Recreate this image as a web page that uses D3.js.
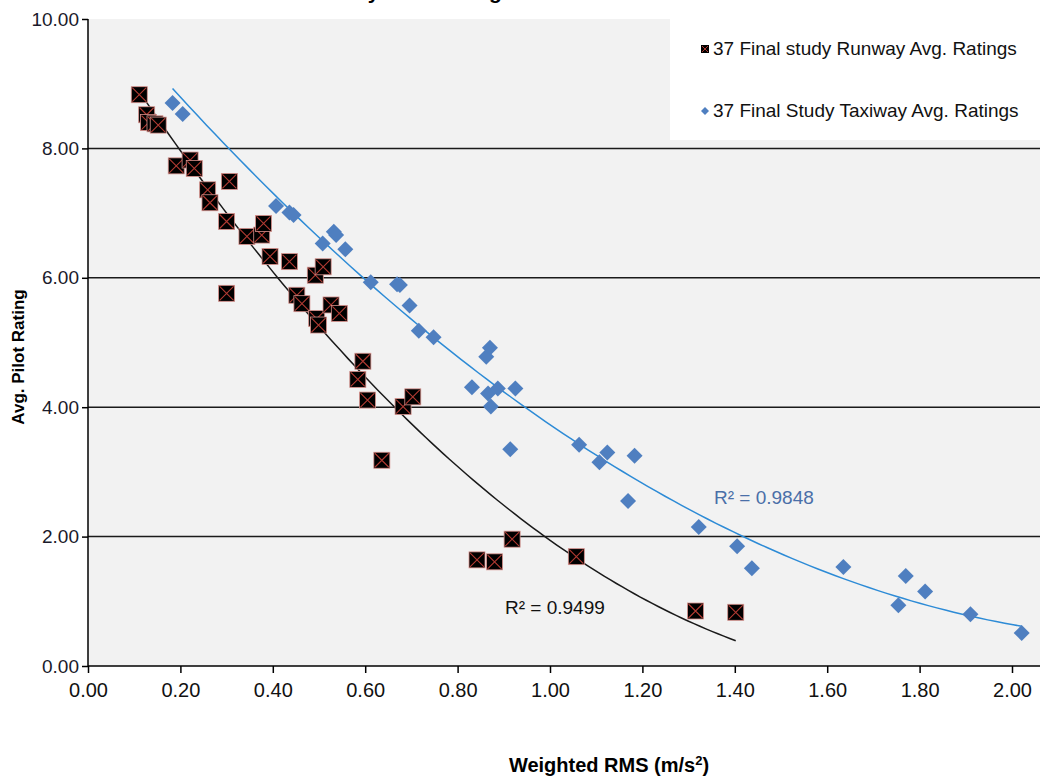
<!DOCTYPE html>
<html>
<head>
<meta charset="utf-8">
<script src="https://cdn.jsdelivr.net/npm/d3@7"></script>
<style>
  body { margin: 0; background: #fff; }
  svg { display: block; }
</style>
</head>
<body>
<div id="chart"></div>
<script>
// runway ratings (weighted RMS, avg pilot rating)
var runwayRms = [0.111, 0.127, 0.131, 0.145, 0.152, 0.191, 0.221, 0.230, 0.259, 0.264,
  0.306, 0.300, 0.344, 0.376, 0.380, 0.394, 0.436, 0.492, 0.509, 0.300,
  0.452, 0.463, 0.495, 0.499, 0.526, 0.544, 0.595, 0.584, 0.605, 0.682,
  0.703, 0.636, 0.842, 0.880, 0.918, 1.057, 1.315, 1.402];
var runwayRating = [8.83, 8.52, 8.40, 8.38, 8.36, 7.73, 7.82, 7.69, 7.36, 7.16,
  7.49, 6.87, 6.64, 6.66, 6.84, 6.33, 6.25, 6.04, 6.17, 5.76,
  5.73, 5.60, 5.37, 5.27, 5.58, 5.45, 4.71, 4.43, 4.11, 4.01,
  4.16, 3.18, 1.64, 1.61, 1.96, 1.69, 0.85, 0.83];

// taxiway ratings
var taxiRms = [0.183, 0.205, 0.407, 0.436, 0.445, 0.508, 0.532, 0.537, 0.557, 0.612,
  0.669, 0.675, 0.696, 0.716, 0.748, 0.831, 0.862, 0.866, 0.870, 0.872,
  0.887, 0.914, 0.925, 1.063, 1.107, 1.124, 1.169, 1.183, 1.322, 1.405,
  1.437, 1.635, 1.754, 1.770, 1.812, 1.910, 2.021];
var taxiRating = [8.70, 8.53, 7.11, 7.01, 6.97, 6.53, 6.71, 6.66, 6.44, 5.93,
  5.90, 5.89, 5.57, 5.18, 5.08, 4.31, 4.78, 4.21, 4.92, 4.01,
  4.29, 3.35, 4.29, 3.42, 3.15, 3.30, 2.55, 3.25, 2.15, 1.85,
  1.51, 1.53, 0.94, 1.39, 1.15, 0.80, 0.51];

var xTicks = [0, 0.2, 0.4, 0.6, 0.8, 1.0, 1.2, 1.4, 1.6, 1.8, 2.0];
var yTicks = [0, 2, 4, 6, 8, 10];
var legendNames = ['37 Final study Runway Avg. Ratings', '37 Final Study Taxiway Avg. Ratings'];
var r2Labels = ['R\u00b2 = 0.9499', 'R\u00b2 = 0.9848'];

var runway = runwayRms.map(function (d, i) { return { x: d, y: runwayRating[i] }; });
var taxi = taxiRms.map(function (d, i) { return { x: d, y: taxiRating[i] }; });

var W = 1040, H = 779;
var svg = d3.select('#chart').append('svg').attr('width', W).attr('height', H);

var x = d3.scaleLinear().domain([0, 2]).range([88, 1012]);
var y = d3.scaleLinear().domain([0, 10]).range([666, 19]);

// title, mostly above the top edge as in the original
svg.append('text')
  .attr('x', 540).attr('y', -1)
  .attr('text-anchor', 'middle')
  .style('font-family', 'Liberation Sans, Arial, sans-serif')
  .style('font-weight', 'bold')
  .style('font-size', '21px')
  .text('737 Final Study Pilot Ratings vs. RMS Acceleration (Combined)');

// plot background
svg.append('rect')
  .attr('x', x(0)).attr('y', y(10))
  .attr('width', W - x(0)).attr('height', y(0) - y(10))
  .attr('fill', '#f2f2f2');

// gridlines
svg.selectAll('.grid').data(yTicks.filter(function (d) { return d > 0 && d < 10; }))
  .enter().append('line')
  .attr('x1', x(0)).attr('x2', W)
  .attr('y1', function (d) { return y(d); }).attr('y2', function (d) { return y(d); })
  .attr('stroke', '#1a1a1a').attr('stroke-width', 1.5);

// legend box (covers top right of plot)
var legend = svg.append('g');
legend.append('rect').attr('x', 670).attr('y', 0).attr('width', W - 670).attr('height', 140).attr('fill', '#fff');

// trend lines: 2nd order polynomial least squares
function polyFit(pts) {
  var s = [0, 0, 0, 0, 0], t = [0, 0, 0];
  pts.forEach(function (p) {
    var xp = 1;
    for (var k = 0; k < 5; k++) { s[k] += xp; if (k < 3) t[k] += xp * p.y; xp *= p.x; }
  });
  var A = [[s[0], s[1], s[2], t[0]], [s[1], s[2], s[3], t[1]], [s[2], s[3], s[4], t[2]]];
  for (var i = 0; i < 3; i++) {
    for (var j = i + 1; j < 3; j++) {
      var f = A[j][i] / A[i][i];
      for (var k = i; k < 4; k++) A[j][k] -= f * A[i][k];
    }
  }
  var c = [0, 0, 0];
  for (var i = 2; i >= 0; i--) {
    var v = A[i][3];
    for (var k = i + 1; k < 3; k++) v -= A[i][k] * c[k];
    c[i] = v / A[i][i];
  }
  return function (xv) { return c[0] + c[1] * xv + c[2] * xv * xv; };
}

function trend(pts, color) {
  var f = polyFit(pts);
  var ext = d3.extent(pts, function (d) { return d.x; });
  var line = d3.range(0, 101).map(function (i) {
    var xv = ext[0] + (ext[1] - ext[0]) * i / 100;
    return [x(xv), y(f(xv))];
  });
  svg.append('path').attr('d', d3.line()(line))
    .attr('fill', 'none').attr('stroke', color).attr('stroke-width', 1.5);
}

trend(taxi, '#2d8bd6');
trend(runway, '#1a1a1a');

// taxiway diamonds
svg.selectAll('.taxi').data(taxi).enter().append('path')
  .attr('transform', function (d) { return 'translate(' + x(d.x) + ',' + y(d.y) + ')'; })
  .attr('d', 'M0,-8L8,0L0,8L-8,0Z')
  .attr('fill', '#4f7fc0');

// runway squares with red cross
var rg = svg.selectAll('.run').data(runway).enter().append('g')
  .attr('transform', function (d) { return 'translate(' + x(d.x) + ',' + y(d.y) + ')'; });
rg.append('rect').attr('x', -8).attr('y', -8).attr('width', 16).attr('height', 16)
  .attr('fill', '#000').attr('stroke', '#d9918c').attr('stroke-width', 0.8);
rg.append('path').attr('d', 'M-7,-7L7,7M7,-7L-7,7')
  .attr('stroke', '#b03a32').attr('stroke-width', 1.1);

// axes
var xAxis = d3.axisBottom(x).tickValues(xTicks).tickSize(7).tickFormat(d3.format('.2f'));
var gx = svg.append('g').attr('transform', 'translate(0,' + y(0) + ')').call(xAxis);
gx.select('.domain').remove();
gx.selectAll('line').attr('stroke', '#000').attr('stroke-width', 1.5);
gx.selectAll('text')
  .attr('dy', '1.05em')
  .style('font-family', 'Liberation Sans Narrow, Arial Narrow, sans-serif')
  .style('font-size', '20px').attr('fill', '#111');
svg.append('line').attr('x1', x(0)).attr('x2', W).attr('y1', y(0)).attr('y2', y(0))
  .attr('stroke', '#000').attr('stroke-width', 1.5);

var yAxis = d3.axisLeft(y).tickValues(yTicks).tickSize(6).tickPadding(3).tickFormat(d3.format('.2f'));
var gy = svg.append('g').attr('transform', 'translate(' + x(0) + ',0)').call(yAxis);
gy.select('.domain').remove();
gy.selectAll('line').attr('stroke', '#000').attr('stroke-width', 1.5);
gy.selectAll('text')
  .style('font-family', 'Liberation Sans, Arial, sans-serif')
  .style('font-size', '19px').attr('fill', '#1a1a2a');
svg.append('line').attr('x1', x(0)).attr('x2', x(0)).attr('y1', y(10)).attr('y2', y(0))
  .attr('stroke', '#000').attr('stroke-width', 1.5);

// axis titles
svg.append('text')
  .attr('transform', 'translate(24,357) rotate(-90)')
  .attr('text-anchor', 'middle')
  .style('font-family', 'Liberation Sans, Arial, sans-serif')
  .style('font-weight', 'bold').style('font-size', '17px')
  .text('Avg. Pilot Rating');

var xt = svg.append('text')
  .attr('x', 609).attr('y', 772)
  .attr('text-anchor', 'middle')
  .style('font-family', 'Liberation Sans Narrow, Arial Narrow, sans-serif')
  .style('font-weight', 'bold').style('font-size', '20px');
xt.append('tspan').text('Weighted RMS (m/s');
xt.append('tspan').attr('dy', -7).style('font-size', '13px').text('2');
xt.append('tspan').attr('dy', 7).text(')');

// R squared labels
svg.append('text').attr('x', 505).attr('y', 614)
  .style('font-family', 'Liberation Sans, Arial, sans-serif').style('font-size', '19px')
  .attr('fill', '#111').text(r2Labels[0]);
svg.append('text').attr('x', 714).attr('y', 504)
  .style('font-family', 'Liberation Sans, Arial, sans-serif').style('font-size', '19px')
  .attr('fill', '#4a6fa8').text(r2Labels[1]);

// legend entries
var lg1 = legend.append('g').attr('transform', 'translate(705,49)');
lg1.append('rect').attr('x', -4).attr('y', -4).attr('width', 8).attr('height', 8).attr('fill', '#000');
lg1.append('path').attr('d', 'M-3,-3L3,3M3,-3L-3,3').attr('stroke', '#b03a32').attr('stroke-width', 1);
var lg2 = legend.append('g').attr('transform', 'translate(705,111)');
lg2.append('path').attr('d', 'M0,-4L4,0L0,4L-4,0Z').attr('fill', '#4f7fc0');
legend.selectAll('.lt').data(legendNames).enter().append('text')
  .attr('x', 713).attr('y', function (d, i) { return i === 0 ? 55 : 117; })
  .style('font-family', 'Liberation Sans Narrow, Arial Narrow, sans-serif')
  .style('font-size', '19px').attr('fill', '#111')
  .text(function (d) { return d; });
</script>
</body>
</html>
